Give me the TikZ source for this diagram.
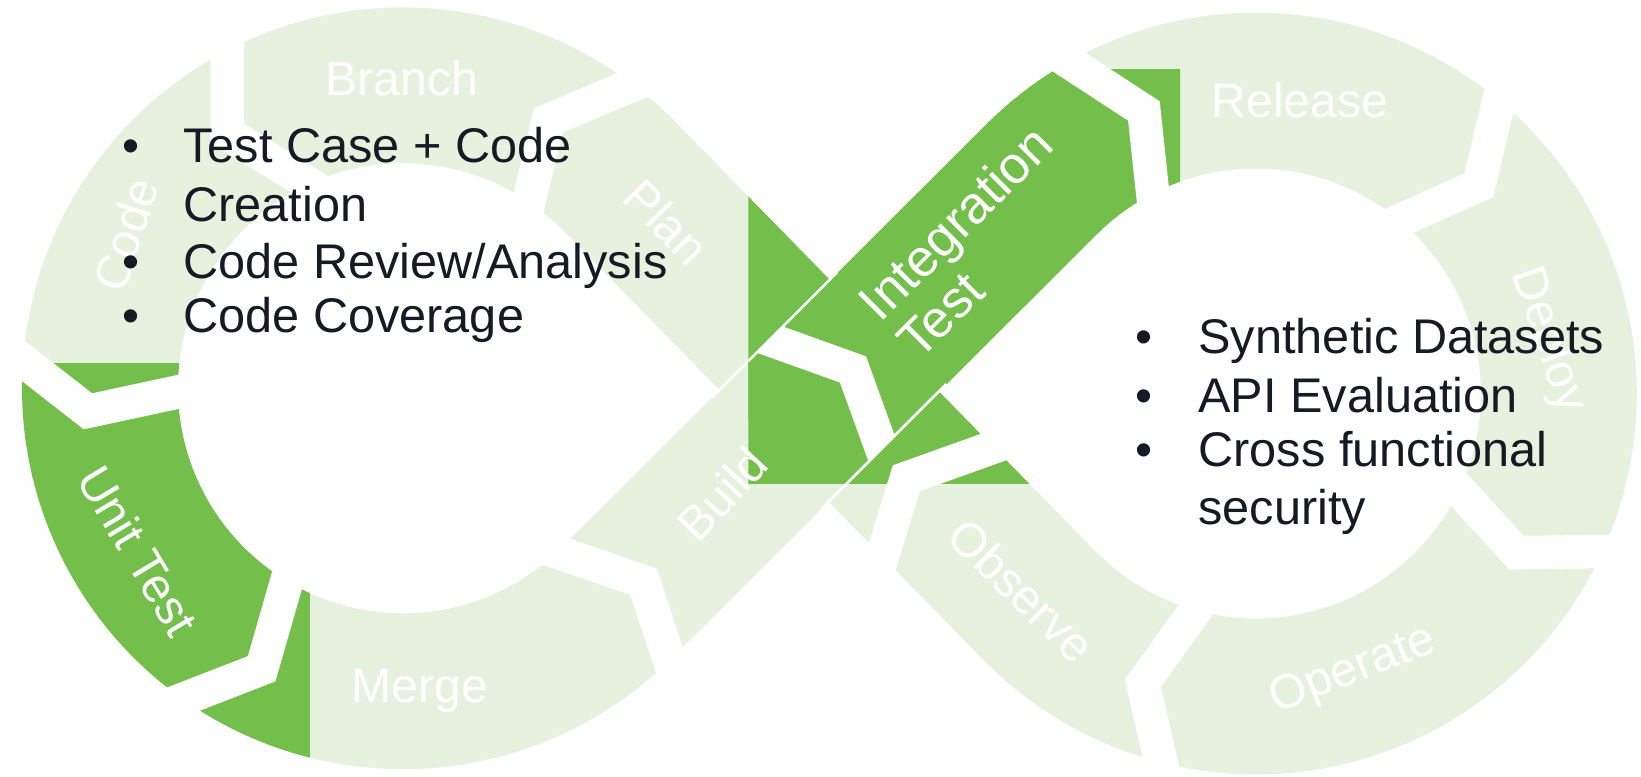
\documentclass[tikz,border=0pt]{standalone}
\usepackage{fontspec}
\setmainfont{Liberation Sans}
\usetikzlibrary{calc}
\definecolor{lightg}{RGB}{230,242,222}
\definecolor{darkg}{RGB}{116,191,76}
\definecolor{inktext}{RGB}{21,26,36}
\tikzset{
  gapline/.style={draw=white, line width=32pt, line join=miter, shorten <=-12pt, shorten >=-12pt},
  seamline/.style={draw=white, line width=2.5pt},
  seglabel/.style={text=white, font=\fontsize{46}{50}\selectfont, inner sep=0pt},
  bullettext/.style={text=inktext, font=\fontsize{46.5}{54}\selectfont, anchor=base west, inner sep=0pt},
  bulletdot/.style={text=inktext, font=\fontsize{46.5}{54}\selectfont, anchor=base, inner sep=0pt},
}
\newcommand\drawinfinity[1]{%
  \fill[#1] plot[domain=45.08:315.62,samples=150] ({385+364*cos(\x)},{371+364*sin(\x)})
    -- plot[domain=315.62:45.08,samples=150] ({385+215*cos(\x)},{371+215*sin(\x)}) -- cycle;
  \fill[#1] plot[domain=225.08:495.62,samples=150] ({1200+364*cos(\x)},{376+364*sin(\x)})
    -- plot[domain=495.62:225.08,samples=150] ({1200+215*cos(\x)},{376+215*sin(\x)}) -- cycle;
  \fill[#1] (642.4,113.5) -- (1049.1,529.3) -- (942.6,633.5) -- (535.9,217.7) -- cycle;
  \fill[#1] (534.0,526.0) -- (945.8,115.5) -- (1051.0,221.0) -- (639.2,631.5) -- cycle;
  \draw[seamline] (680,380) -- (800,260);
  \draw[seamline] (785,486) -- (904,367);
  \draw[gapline] (11,336) -- (84,393) -- (177,373);
  \draw[gapline] (275,552) -- (250,639) -- (165,672);
  \draw[gapline] (531,527) -- (615,556) -- (640,632);
  \draw[gapline] (1021,59) -- (1093,106) -- (1102,190);
  \draw[gapline] (1432,97) -- (1413,177) -- (1335,212);
  \draw[gapline] (1394,468) -- (1449,528) -- (1532,527);
  \draw[gapline] (1140,586) -- (1092,653) -- (1110,731);
  \draw[gapline] (947,428) -- (866,457) -- (842,535);
  \draw[gapline] (607,80) -- (524,115) -- (504,198);
  \draw[gapline] (217,36) -- (217,127) -- (294,175);
  \begin{scope}
    \clip (534.0,526.0) -- (945.8,115.5) -- (1051.0,221.0) -- (639.2,631.5) -- cycle;
    \draw[gapline] (737,325) -- (815,353) -- (844,433);
  \end{scope}
}
\begin{document}
\begin{tikzpicture}[x=1pt,y=-1pt]
\useasboundingbox (0,0) rectangle (1568,742);
\drawinfinity{lightg}
\begin{scope}
  \clip (0,347) rectangle (296,742);
  \drawinfinity{darkg}
\end{scope}
\begin{scope}
  \clip (715,66) rectangle (1127.5,462);
  \drawinfinity{darkg}
\end{scope}
% segment labels
\node[seglabel, anchor=base] (lbranch) at (384,91) {Branch};
\node[seglabel, rotate=72] (lcode) at (120,224) {Code};
\node[seglabel, rotate=-46] (lplan) at (637,212) {Plan};
\node[seglabel, rotate=47] (lbuild) at (690,472) {Build};
\node[seglabel, rotate=45, align=left, font=\fontsize{50}{52}\selectfont] (linteg) at (931,231) {Integration\\Test};
\node[seglabel, anchor=base] (lrelease) at (1242,112) {Release};
\node[seglabel, rotate=-71] (ldeploy) at (1479,325) {Deploy};
\node[seglabel, rotate=21] (loperate) at (1293,641) {Operate};
\node[seglabel, rotate=-44] (lobserve) at (976,564) {Observe};
\node[seglabel, anchor=base] (lmerge) at (401,671) {Merge};
\node[seglabel, rotate=-59] (lunit) at (132,526) {Unit Test};
% left bullets
\node[bulletdot] (lb1) at (125,155.5) {•};
\node[bullettext] (lt1) at (175,155.5) {Test Case + Code};
\node[bullettext] (lt2) at (175,212) {Creation};
\node[bulletdot] (lb3) at (125,266) {•};
\node[bullettext] (lt3) at (175,266) {Code Review/Analysis};
\node[bulletdot] (lb4) at (125,318) {•};
\node[bullettext] (lt4) at (175,318) {Code Coverage};
% right bullets
\node[bulletdot] (rb1) at (1093,338) {•};
\node[bullettext] (rt1) at (1145,338) {Synthetic Datasets};
\node[bulletdot] (rb2) at (1093,394) {•};
\node[bullettext] (rt2) at (1145,394) {API Evaluation};
\node[bulletdot] (rb3) at (1093,446) {•};
\node[bullettext] (rt3) at (1145,446) {Cross functional};
\node[bullettext] (rt4) at (1145,501.5) {security};
\end{tikzpicture}
\end{document}
